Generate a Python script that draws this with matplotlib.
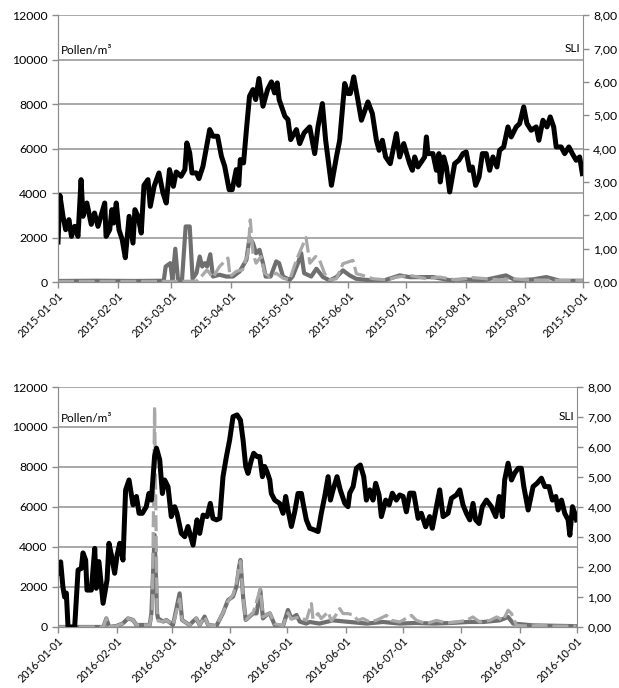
import numpy as np
import matplotlib
matplotlib.use("Agg")
import matplotlib.pyplot as plt
import matplotlib.dates as mdates
import matplotlib.transforms as mtransforms
from matplotlib.ticker import FuncFormatter

plt.rcParams['font.family'] = ['Lato', 'DejaVu Sans']

# ---------------- 2015 ----------------
# SLI (right axis), day offset from 2015-01-01
sli15_days = [0, 1, 2.6, 4, 5.7, 7, 8.7, 10.4, 12, 13, 15, 17.3, 19, 20.8, 24.3, 25, 26.9, 28, 29, 30.3,
              31.7, 33.4, 35, 37, 39, 40, 41.6, 43.3, 44.7, 46.8, 48, 50, 52.5, 54.6, 56.3, 58, 60, 61.5,
              64, 66, 67, 68.5, 69.7, 72, 73.3, 75.4, 78.9, 80.6, 83, 85, 86.7, 89, 90.6, 92.7, 94, 94.8,
              96.5, 98, 99.6, 101.4, 102.8, 104.5, 106.6, 109, 111, 112.6, 114, 115, 118, 119.6, 121, 124,
              125.7, 128, 130.9, 133.5, 135.2, 137.5, 139.2, 142.2, 144.8, 146.5, 149.1, 150.8, 152, 153.8,
              156, 157.8, 161.2, 163.5, 165.6, 167, 168.7, 170.4, 172.8, 176, 177.7, 179.8, 182.9, 184.3,
              185.5, 187.2, 189.5, 190.7, 191.6, 192.4, 195, 196.8, 198.1, 198.8, 200.6, 202, 203.7, 206.3,
              208.5, 210.6, 212.3, 214.1, 215.5, 217.2, 219, 220.7, 222.7, 224.5, 226.2, 228.3, 229.7, 231.8,
              234, 235.7, 238.3, 240.1, 242.2, 243.9, 246.1, 248.7, 250.1, 252.2, 254.3, 256, 257.8, 259.1,
              261.7, 263.5, 265.7, 267.5, 269.5, 271.3, 272.7]
sli15 = [1.2, 2.6, 1.97, 1.57, 1.87, 1.37, 1.67, 1.37, 3.07, 1.97, 2.37, 1.73, 2.07, 1.67, 2.37, 1.37, 1.57,
         2.17, 1.77, 2.37, 1.57, 1.27, 0.73, 1.97, 1.17, 2.17, 1.97, 1.47, 2.9, 3.07, 2.27, 2.87, 3.27, 2.67,
         2.37, 3.37, 2.87, 3.3, 3.17, 3.37, 4.17, 3.87, 3.27, 3.27, 3.1, 3.47, 4.57, 4.37, 4.37, 3.77, 3.47,
         2.77, 2.77, 3.37, 2.9, 3.67, 3.57, 4.57, 5.57, 5.77, 5.47, 6.1, 5.27, 5.77, 6.0, 5.67, 5.97, 5.47,
         4.97, 4.87, 4.27, 4.57, 4.15, 4.47, 4.65, 3.85, 4.65, 5.35, 4.25, 2.9, 3.75, 4.25, 5.95, 5.65, 5.65,
         6.15, 5.45, 4.85, 5.4, 5.05, 4.25, 3.95, 4.25, 3.75, 3.55, 4.45, 3.75, 4.15, 3.55, 3.35, 3.75, 3.45,
         3.65, 3.75, 4.35, 3.85, 3.85, 3.35, 3.85, 3.0, 3.75, 3.45, 2.7, 3.55, 3.65, 3.85, 3.9, 3.35, 3.45,
         2.9, 3.15, 3.85, 3.85, 3.35, 3.75, 3.45, 3.95, 4.05, 4.65, 4.35, 4.65, 4.75, 5.25, 4.75, 4.55, 4.65,
         4.25, 4.85, 4.65, 4.95, 4.65, 4.05, 4.05, 3.85, 4.05, 3.85, 3.65, 3.75, 3.25]

# pollen, dark grey solid
polA15_days = [0, 20, 40, 55, 56, 58.4, 59.5, 61, 62.4, 64.5, 66.4, 68.5, 70, 72, 73.7, 75, 76.3, 77.5,
               79.2, 80.6, 84, 87.5, 91, 94.5, 98, 99.6, 101.4, 103, 104.8, 106.6, 108, 110.6, 113.5, 115,
               117, 120.5, 122, 124.8, 126.5, 128, 131.7, 134.4, 137.8, 141.3, 144.8, 148.2, 151.7, 155,
               160, 169, 177.7, 183, 195, 204, 212, 221, 233, 238, 247, 254, 261, 273]
polA15 = [50, 60, 50, 60, 700, 850, 100, 1500, 100, 100, 2500, 2500, 150, 400, 1150, 700, 850, 700, 1250,
          250, 330, 250, 250, 480, 1000, 2000, 1750, 1300, 1450, 850, 250, 250, 930, 850, 250, 100, 250, 850,
          1300, 400, 250, 600, 225, 75, 225, 525, 300, 150, 100, 60, 300, 220, 225, 80, 120, 80, 300, 80,
          120, 225, 60, 60]

# pollen, light grey dashed
polB15_days = [0, 30, 60, 72, 75, 77.5, 80.6, 84, 88.4, 89.5, 92.7, 96, 98.8, 100, 101.4, 103, 105.6,
               107.5, 110, 113.5, 117, 120.5, 124, 126.5, 129, 131, 134, 136, 138.7, 141.3, 144.8, 148.2,
               150.8, 153.4, 155.2, 158.6, 163.8, 170.8, 176, 183, 191.6, 198.5, 207, 215.8, 229.7, 236.6,
               243.5, 273]
polB15 = [30, 30, 30, 40, 300, 550, 200, 700, 1080, 250, 480, 550, 1300, 2800, 1300, 850, 1150, 400, 250,
          400, 175, 100, 1000, 1500, 2000, 850, 1150, 1000, 375, 100, 150, 825, 900, 975, 375, 300, 150, 100,
          225, 300, 150, 225, 100, 200, 100, 150, 100, 60]

# ---------------- 2016 ----------------
sli16_days = [0, 1.4, 2.6, 3.5, 4.4, 5.3, 8.8, 10.6, 12.3, 13.2, 14.6, 15.3, 17.6, 19.4, 20.2, 21.6, 23.8,
              25.9, 26.9, 28.2, 29.9, 31.2, 32.6, 34.3, 35.7, 37.5, 39.6, 41.4, 42.8, 44.5, 46.6, 48, 49.3,
              51, 52, 53.7, 55.1, 56.3, 58.1, 59.8, 61.6, 62.8, 65.1, 66.9, 68.6, 71.3, 73.4, 74.8, 76.6,
              78.7, 80.4, 81.8, 83.6, 85.4, 87.1, 88.9, 90.6, 92.4, 94.5, 96.3, 97.7, 99.1, 100.3, 102.1,
              103.3, 105.1, 106.5, 107.9, 109.1, 110.3, 111.8, 112.6, 114.4, 117, 118.8, 120.2, 121.4, 123.2,
              125, 126.7, 128.5, 129.4, 131.1, 132.9, 135.5, 137.3, 139, 140.8, 142.6, 143.8, 145.2, 147.3,
              149, 151.4, 153.1, 154, 155.8, 157.5, 159.6, 161.4, 162.8, 164.6, 166.3, 167.7, 169.5, 170.7,
              173, 174.8, 176.5, 178.6, 180.4, 182.2, 183.9, 185.7, 187.8, 190.1, 191.8, 194.1, 196.2, 197.6,
              199.8, 201.5, 203.3, 205.9, 207.7, 210.3, 212.1, 213.8, 215.6, 217.4, 219.1, 220.5, 222.3, 224,
              226.2, 228.8, 231.1, 232.9, 234.6, 235.8, 237.6, 239.4, 241.1, 242.9, 244.6, 245.9, 248.2,
              250.8, 252.9, 255.2, 257, 259.2, 261, 262.8, 264, 265.8, 267.5, 269.3, 270.2, 271.6, 272.8,
              273.7]
sli16 = [1.8, 2.17, 1.33, 1.0, 1.13, 0, 0, 1.9, 1.95, 2.47, 2.23, 1.23, 1.23, 2.62, 1.29, 2.18, 0.79, 1.57,
         2.79, 2.4, 1.79, 2.4, 2.79, 2.23, 4.57, 4.9, 4.07, 4.35, 3.79, 3.79, 4.01, 4.45, 4.23, 5.7, 5.96,
         5.57, 4.45, 4.9, 4.67, 3.68, 4.01, 3.79, 3.12, 3.01, 3.35, 2.73, 3.57, 3.12, 3.73, 3.68, 4.12, 3.62,
         3.57, 3.62, 5.01, 5.68, 6.23, 7.01, 7.07, 6.9, 6.23, 5.35, 5.12, 5.57, 5.79, 5.68, 5.68, 5.01, 5.35,
         5.18, 4.9, 4.45, 4.23, 4.12, 3.79, 4.35, 3.9, 3.35, 3.85, 4.45, 4.45, 4.12, 3.57, 3.29, 3.23, 3.18,
         3.79, 4.35, 5.01, 4.23, 4.57, 5.01, 4.57, 4.12, 4.01, 4.46, 4.68, 5.29, 5.40, 5.01, 4.23, 4.57, 4.23,
         4.79, 4.40, 3.68, 4.23, 4.07, 4.46, 4.23, 4.40, 4.35, 3.84, 4.46, 4.46, 3.62, 3.79, 3.34, 3.68, 3.29,
         4.01, 4.57, 3.68, 3.79, 4.29, 4.40, 4.57, 4.07, 3.79, 3.57, 4.12, 3.57, 3.45, 4.01, 4.23, 4.01, 3.68,
         4.35, 3.68, 4.90, 5.46, 4.90, 5.13, 5.29, 5.29, 4.68, 3.90, 4.68, 4.79, 4.96, 4.68, 4.68, 4.23, 4.35,
         3.90, 4.23, 3.79, 3.57, 3.06, 4.01, 3.79, 3.57]

polA16_days = [0, 24, 25.5, 27, 30.8, 34.3, 37, 39.6, 41.4, 45, 48.4, 49.3, 51, 52.3, 52.8, 55.5, 57.2,
               60.7, 64.2, 65.5, 69.4, 73, 74.8, 77.4, 79.2, 83.6, 87, 89.8, 92.4, 94.2, 95.6, 96.3, 97.7,
               99.1, 103, 104.8, 106.8, 108.2, 110, 111.8, 114.4, 118.8, 121.4, 123.2, 125.9, 127.6, 131,
               133, 138, 145.2, 154, 163, 171.6, 180.4, 189, 198.5, 207.7, 216.6, 224.6, 233.2, 237.6, 240.3,
               250.8, 273.7]
polA16 = [0, 0, 430, 0, 50, 180, 430, 350, 100, 100, 100, 680, 4600, 680, 430, 270, 350, 100, 1680, 350,
          100, 430, 100, 520, 100, 50, 680, 1350, 1520, 2020, 3000, 3350, 1520, 350, 680, 680, 1850, 430, 600,
          680, 100, 50, 850, 430, 600, 270, 170, 250, 170, 330, 250, 170, 250, 170, 200, 170, 200, 250, 250,
          330, 500, 170, 80, 40]

polB16_days = [0, 24, 25.5, 27, 30.8, 34.3, 37, 39.6, 41.4, 48.4, 49.8, 51, 52.3, 52.8, 55.5, 57.2, 60.7,
               64.2, 65.5, 69.4, 73, 74.8, 77.4, 79.2, 83.6, 87, 89.8, 92.4, 94.2, 95.6, 96.3, 97.7, 99.1,
               103, 106.8, 108.2, 111.8, 114.4, 118.8, 121.4, 123.2, 127.6, 131.1, 133.8, 134.6, 137.3, 139,
               142.6, 144.3, 146.6, 148.7, 150.5, 153.1, 155.8, 158.4, 161, 164.6, 168, 173.4, 176, 180.4,
               186.6, 189.2, 194.5, 199.8, 205, 210.3, 215.6, 219, 222.6, 228, 231.6, 235, 237.6, 239.4, 242,
               249, 254, 261, 273.7]
polB16 = [0, 0, 430, 0, 50, 180, 430, 350, 100, 100, 800, 11000, 800, 300, 270, 350, 100, 1400, 350, 100,
          430, 100, 520, 100, 50, 700, 1300, 1600, 2200, 3000, 3300, 1500, 350, 700, 1900, 500, 700, 150, 80,
          700, 400, 500, 330, 1170, 400, 670, 420, 750, 300, 580, 920, 670, 670, 600, 330, 420, 250, 330, 580,
          330, 250, 580, 330, 170, 330, 200, 250, 330, 500, 250, 330, 500, 330, 840, 670, 80, 40, 80, 40, 40]

panels = [
    ('2015-01-01', '2015-10-01', sli15_days, sli15, polA15_days, polA15, polB15_days, polB15,
     [0.0937, 0.590, 0.848, 0.388]),
    ('2016-01-01', '2016-10-01', sli16_days, sli16, polA16_days, polA16, polB16_days, polB16,
     [0.0937, 0.0887, 0.8385, 0.3488]),
]

grid_c = '#a3a3a3'
spine_c = '#8c8c8c'

fig = plt.figure(figsize=(6.19, 6.88), dpi=100)

for start, end, sd, sv, ad, av, bd, bv, rect in panels:
    t0 = mdates.date2num(np.datetime64(start))
    t1 = mdates.date2num(np.datetime64(end))
    ax = fig.add_axes(rect)
    ax2 = ax.twinx()

    ax.plot(t0 + np.array(ad), av, color='#6f6f6f', lw=3.0, solid_joinstyle='round', zorder=3)
    ax.plot(t0 + np.array(bd), bv, color='#a8a8a8', lw=2.3, dashes=(5, 1.5), zorder=4)
    ax2.plot(t0 + np.array(sd), sv, color='black', lw=3.6, solid_joinstyle='round')

    ax.set_xlim(t0, t1)
    ax.set_ylim(0, 12000)
    ax.set_yticks(range(0, 12001, 2000))
    ax2.set_ylim(0, 8)
    ax2.set_yticks(range(0, 9))
    ax2.yaxis.set_major_formatter(FuncFormatter(lambda v, p: f'{v:.2f}'.replace('.', ',')))

    ax.grid(axis='y', color=grid_c, lw=1.3)
    ax.set_axisbelow(True)

    months = [mdates.date2num(m) for m in np.arange(np.datetime64(start[:7]), np.datetime64(end[:7]) + 1,
                                                      np.timedelta64(1, 'M')).astype('datetime64[D]')]
    ax.set_xticks(months)
    ax.xaxis.set_major_formatter(mdates.DateFormatter('%Y-%m-%d'))

    for a in (ax, ax2):
        for s in a.spines.values():
            s.set_color(spine_c)
        a.spines['top'].set_visible(False)
        a.tick_params(colors=spine_c, labelcolor='black', labelsize=8.8, length=4, width=1)
    ax.spines['right'].set_visible(False)
    ax.tick_params(axis='x', pad=2, labelsize=7.8)
    for lab in ax.get_xticklabels():
        lab.set_rotation(45)
        lab.set_ha('right')
        lab.set_rotation_mode('anchor')

    ax.text(0.006, 10150, 'Pollen/m³', transform=mtransforms.blended_transform_factory(ax.transAxes, ax.transData),
            fontsize=8.5, va='bottom', ha='left')
    ax2.text(0.995, 7.0, 'SLI', fontsize=8.5, va='center', ha='right',
             transform=mtransforms.blended_transform_factory(ax2.transAxes, ax2.transData))

fig.savefig('out.png', dpi=100)
